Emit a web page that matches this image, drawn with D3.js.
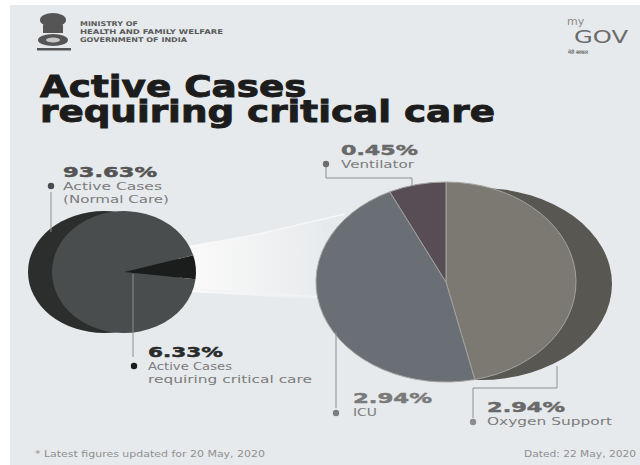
<!DOCTYPE html>
<html>
<head>
<meta charset="utf-8">
<script src="https://cdn.jsdelivr.net/npm/d3@7"></script>
<style>
html,body{margin:0;padding:0;background:#fff;}
body{position:relative;width:640px;height:465px;overflow:hidden;}
svg{display:block;}
text{font-family:"DejaVu Sans",sans-serif;}
.title{position:absolute;font-family:"DejaVu Sans",sans-serif;font-weight:bold;font-size:30px;line-height:25px;color:#1c1c1c;-webkit-text-stroke:0.9px #1c1c1c;transform-origin:0 0;white-space:normal;margin:0;padding:0;}
</style>
</head>
<body>
<svg id="chart" width="640" height="465"></svg>
<script>
// ---- data ----
const overviewCategories = ["Active Cases requiring critical care", "Active Cases (Normal Care)"];
const overviewValues = [6.33, 93.63];
const criticalCategories = ["Oxygen Support", "ICU", "Ventilator"];
const criticalValues = [2.94, 2.94, 0.45];
const titleText = "Active Cases requiring critical care";
const ministryLines = ["MINISTRY OF", "HEALTH AND FAMILY WELFARE", "GOVERNMENT OF INDIA"];
const footNote = "* Latest figures updated for 20 May, 2020";
const dateNote = "Dated: 22 May, 2020";

const svg = d3.select("#chart");
const W = 640, H = 465;
const bg = "#e7eaed";

svg.append("rect").attr("width", W).attr("height", H).attr("fill", "#ffffff");
svg.append("rect").attr("x", 10).attr("y", 5).attr("width", W - 10).attr("height", H - 5).attr("fill", bg);

const defs = svg.append("defs");
const grad = defs.append("linearGradient").attr("id", "beam").attr("x1", "0%").attr("x2", "100%").attr("y1", "0%").attr("y2", "0%");
grad.append("stop").attr("offset", "0%").attr("stop-color", "#fbfbfb");
grad.append("stop").attr("offset", "55%").attr("stop-color", "#f0f1f2");
grad.append("stop").attr("offset", "100%").attr("stop-color", bg);

// ---- header ----
const emb = svg.append("g").attr("fill", "#555555");
emb.append("ellipse").attr("cx", 53).attr("cy", 20).attr("rx", 13).attr("ry", 7);
emb.append("rect").attr("x", 43).attr("y", 25).attr("width", 20).attr("height", 8);
emb.append("ellipse").attr("cx", 53).attr("cy", 40).attr("rx", 15).attr("ry", 6);
emb.append("ellipse").attr("cx", 53).attr("cy", 40).attr("rx", 7).attr("ry", 2.5).attr("fill", "#c8c8c8");
emb.append("rect").attr("x", 37).attr("y", 48).attr("width", 34).attr("height", 2.5);

const minW = [58, 143, 107];
const minText = svg.append("text").attr("font-size", 6.5).attr("font-weight", "bold").attr("fill", "#5a5a5a");
ministryLines.forEach((d, i) => {
  minText.append("tspan").attr("x", 80).attr("y", 26 + i * 8)
    .attr("textLength", minW[i]).attr("lengthAdjust", "spacingAndGlyphs").text(d);
});

svg.append("text").attr("x", 567).attr("y", 24.5).attr("font-size", 11).attr("fill", "#8a8a8a").text("my");
svg.append("text").attr("x", 574).attr("y", 43).attr("font-size", 17).attr("fill", "#6a6a6a")
  .attr("textLength", 54).attr("lengthAdjust", "spacingAndGlyphs").text("GOV");
svg.append("text").attr("x", 568).attr("y", 53.5).attr("font-size", 5).attr("font-weight", "bold").attr("fill", "#6a6a6a").text("मेरी सरकार");

// ---- title (one wrapping text block) ----
d3.select("body").append("div").attr("class", "title")
  .style("left", "40px").style("top", "74px").style("width", "373px")
  .style("transform", "scaleX(1.243)")
  .text(titleText);

// ---- beam between pies ----
svg.append("path")
  .attr("d", "M188,246 L322,222 L330,300 L190,292 Z")
  .attr("fill", "url(#beam)");
svg.append("path").attr("d", "M190,250 L345,214").attr("stroke", "#f6f6f6").attr("stroke-width", 1.5).attr("fill", "none");
svg.append("path").attr("d", "M190,289 L318,297").attr("stroke", "#f3f3f3").attr("stroke-width", 1.5).attr("fill", "none");

// ---- left pie ----
const L = { cx: 124, cy: 272, r: 72, ry: 61 };
svg.append("ellipse").attr("cx", L.cx - 20).attr("cy", L.cy).attr("rx", L.r + 4).attr("ry", L.ry).attr("fill", "#2c2e2e");
const leftStart = 74 * Math.PI / 180;
const leftPie = d3.pie().sort(null).startAngle(leftStart).endAngle(leftStart + 2 * Math.PI);
const leftArcs = leftPie(overviewValues);
const leftColors = ["#1b1c1c", "#4a4d4d"];
const arcL = d3.arc().innerRadius(0).outerRadius(L.r);
const gL = svg.append("g").attr("transform", `translate(${L.cx},${L.cy}) scale(1,${L.ry / L.r})`);
gL.selectAll("path").data(leftArcs).join("path")
  .attr("d", arcL).attr("fill", (d, i) => leftColors[i]);

// ---- right pie ----
const R = { cx: 446, cy: 282, r: 130, ry: 100 };
svg.append("ellipse").attr("cx", R.cx + 34).attr("cy", R.cy + 2).attr("rx", R.r + 2).attr("ry", R.ry - 4).attr("fill", "#585752");
const rightPie = d3.pie().sort(null);
const rightArcs = rightPie(criticalValues);
const rightColors = ["#7b7971", "#6a6f75", "#584d54"];
const arcR = d3.arc().innerRadius(0).outerRadius(R.r);
const gR = svg.append("g").attr("transform", `translate(${R.cx},${R.cy}) scale(1,${R.ry / R.r})`);
gR.selectAll("path").data(rightArcs).join("path")
  .attr("d", arcR).attr("fill", (d, i) => rightColors[i])
  .attr("stroke", "#a3a39e").attr("stroke-width", 1).attr("vector-effect", "non-scaling-stroke");

// ---- leader lines ----
const lineCol = "#8e8e8e";
const leaders = [
  "M51,192 L51,232",
  "M133,274 L133,357",
  "M326,164 L326,178 L412,178 L412,186",
  "M336,332 L336,408",
  "M557,366 L557,388 L473,388 L473,418"
];
svg.append("g").selectAll("path").data(leaders).join("path")
  .attr("d", d => d).attr("fill", "none").attr("stroke", lineCol).attr("stroke-width", 1);

// ---- labels ----
const fmt = v => v.toFixed(2) + "%";
const labels = [
  { value: overviewValues[1], lines: ["Active Cases", "(Normal Care)"], x: 63, y: 177, dot: [51, 186], pctW: 94, col: "#545454", dotCol: "#4a4d4d", lw: [99, 106] },
  { value: overviewValues[0], lines: ["Active Cases", "requiring critical care"], x: 148, y: 357, dot: [134, 366], pctW: 75, col: "#2a2a2a", dotCol: "#1b1c1c", lw: [84, 164] },
  { value: criticalValues[2], lines: [criticalCategories[2]], x: 341, y: 155, dot: [326, 164], pctW: 77, col: "#6a6a6a", dotCol: "#6d6d6d", lw: [73] },
  { value: criticalValues[1], lines: [criticalCategories[1]], x: 353, y: 403, dot: [336, 413], pctW: 79, col: "#7a7a7a", dotCol: "#7d7d7d", lw: [24] },
  { value: criticalValues[0], lines: [criticalCategories[0]], x: 487, y: 412, dot: [473, 422], pctW: 78, col: "#6a6a6a", dotCol: "#8d8d8d", lw: [125] }
];
const lg = svg.append("g");
labels.forEach(l => {
  lg.append("text").attr("x", l.x).attr("y", l.y)
    .attr("font-size", 14).attr("font-weight", "bold").attr("fill", l.col)
    .attr("stroke", l.col).attr("stroke-width", 0.45)
    .attr("textLength", l.pctW).attr("lengthAdjust", "spacingAndGlyphs")
    .text(fmt(l.value));
  lg.append("circle").attr("cx", l.dot[0]).attr("cy", l.dot[1]).attr("r", 3.2).attr("fill", l.dotCol);
  const t = lg.append("text").attr("font-size", 10.5).attr("fill", "#7c7c7c");
  l.lines.forEach((s, i) => {
    t.append("tspan").attr("x", l.x).attr("y", l.y + 13.3 + i * 13)
      .attr("textLength", l.lw[i]).attr("lengthAdjust", "spacingAndGlyphs")
      .text(s);
  });
});

// ---- footer ----
svg.append("text").attr("x", 35).attr("y", 457).attr("font-size", 8.5).attr("fill", "#8f8f8f")
  .attr("textLength", 230).attr("lengthAdjust", "spacingAndGlyphs").text(footNote);
svg.append("text").attr("x", 524).attr("y", 457).attr("font-size", 8.5).attr("fill", "#8f8f8f")
  .attr("textLength", 112).attr("lengthAdjust", "spacingAndGlyphs").text(dateNote);
</script>
</body>
</html>
